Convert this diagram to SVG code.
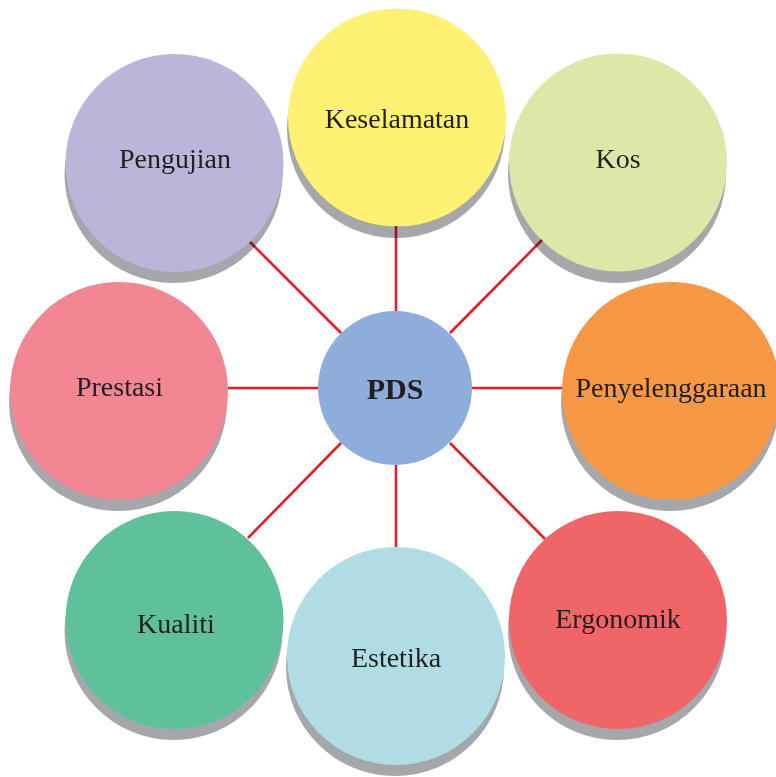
<svg xmlns="http://www.w3.org/2000/svg" width="776" height="777" viewBox="0 0 776 777">
  <defs>
    <style>
      .shadow { fill: #a6a7ab; }
      .label { font-family: "Liberation Serif", "DejaVu Serif", serif; font-size: 28px; fill: #231f20; text-anchor: middle; }
      .hub { font-weight: bold; font-size: 30px; }
      .link { stroke: #e31e26; stroke-width: 2.6; fill: none; mix-blend-mode: multiply; }
    </style>
  </defs>
  <rect width="776" height="777" fill="#ffffff"/>

  <g id="node-pengujian">
    <circle class="shadow" cx="173.5" cy="174" r="109"/>
    <circle cx="174.5" cy="163" r="109" fill="#bab6da"/>
    <text class="label" x="175" y="168">Pengujian</text>
  </g>
  <g id="node-keselamatan">
    <circle class="shadow" cx="396" cy="129" r="109"/>
    <circle cx="397" cy="117.5" r="109" fill="#fff173"/>
    <text class="label" x="397" y="128">Keselamatan</text>
  </g>
  <g id="node-kos">
    <circle class="shadow" cx="617" cy="174" r="109"/>
    <circle cx="618" cy="162.5" r="109" fill="#dee7a8"/>
    <text class="label" x="618" y="168">Kos</text>
  </g>
  <g id="node-prestasi">
    <circle class="shadow" cx="118" cy="402" r="109"/>
    <circle cx="119" cy="391" r="109" fill="#f28693"/>
    <text class="label" x="119.5" y="396">Prestasi</text>
  </g>
  <g id="node-penyelenggaraan">
    <circle class="shadow" cx="670" cy="402" r="109"/>
    <circle cx="671" cy="391" r="109" fill="#f79847"/>
    <text class="label" x="671" y="397">Penyelenggaraan</text>
  </g>
  <g id="node-kualiti">
    <circle class="shadow" cx="173.5" cy="631" r="109"/>
    <circle cx="174.5" cy="620" r="109" fill="#5fc19b"/>
    <text class="label" x="176" y="633">Kualiti</text>
  </g>
  <g id="node-estetika">
    <circle class="shadow" cx="395" cy="667" r="109"/>
    <circle cx="396" cy="656" r="109" fill="#afdde3"/>
    <text class="label" x="396" y="667">Estetika</text>
  </g>
  <g id="node-ergonomik">
    <circle class="shadow" cx="617" cy="631" r="109"/>
    <circle cx="618" cy="620" r="109" fill="#f06668"/>
    <text class="label" x="618" y="628">Ergonomik</text>
  </g>
  <g id="node-pds">
    <circle cx="395" cy="388" r="77" fill="#8eadda"/>
    <text class="label hub" x="395" y="399">PDS</text>
  </g>

  <g id="connectors">
    <line class="link" x1="396" y1="226" x2="396" y2="311"/>
    <line class="link" x1="396" y1="465" x2="396" y2="547"/>
    <line class="link" x1="228" y1="388" x2="318" y2="388"/>
    <line class="link" x1="472" y1="388" x2="562" y2="388"/>
    <line class="link" x1="250" y1="242" x2="341" y2="333"/>
    <line class="link" x1="542" y1="240" x2="450" y2="333"/>
    <line class="link" x1="248" y1="538" x2="341" y2="443"/>
    <line class="link" x1="545" y1="539" x2="450" y2="443"/>
  </g>
</svg>
